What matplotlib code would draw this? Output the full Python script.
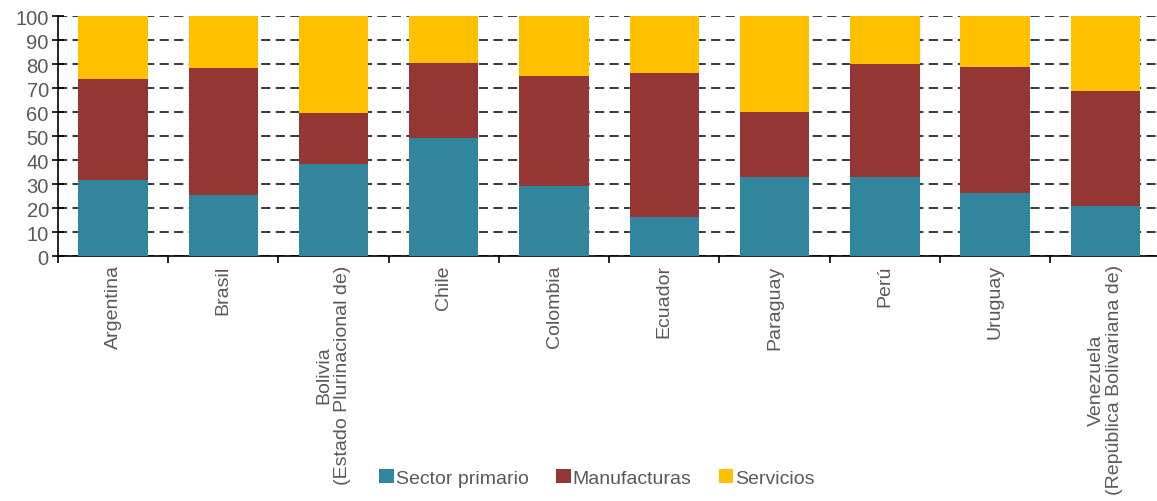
import matplotlib.pyplot as plt
import numpy as np

plt.rcParams['font.family'] = ['Liberation Sans', 'DejaVu Sans']

countries = ['Argentina', 'Brasil', 'Bolivia\n(Estado Plurinacional de)', 'Chile', 'Colombia',
             'Ecuador', 'Paraguay', 'Perú', 'Uruguay', 'Venezuela\n(República Bolivariana de)']
primario = [31.8, 25.5, 38.3, 49.0, 29.0, 16.1, 32.9, 32.8, 26.1, 20.7]
manufacturas = [42.0, 53.0, 21.3, 31.4, 46.0, 60.0, 27.0, 47.2, 52.8, 47.9]
servicios = [100 - p - m for p, m in zip(primario, manufacturas)]

teal = '#31859C'
red = '#943634'
yellow = '#FFC000'
gray = '#595959'
fs = 14

fig = plt.figure(figsize=(11.57, 5.02), dpi=100)
ax = fig.add_axes([0.050, 0.488, 0.953, 0.478])

x = np.arange(len(countries))
width = 0.63
bottom2 = np.array(primario) + np.array(manufacturas)
ax.bar(x, primario, width, color=teal, label='Sector primario', zorder=3)
ax.bar(x, manufacturas, width, bottom=primario, color=red, label='Manufacturas', zorder=3)
ax.bar(x, servicios, width, bottom=bottom2, color=yellow, label='Servicios', zorder=3)

ax.set_ylim(0, 100)
ax.set_xlim(-0.5, len(countries) - 0.5)
ax.set_yticks(range(0, 101, 10))
ax.yaxis.grid(True, color='black', linestyle=(0, (6, 3.5)), linewidth=1.1, zorder=0)
ax.set_axisbelow(True)

# category boundary ticks on x, labels centred under bars
ax.set_xticks(np.arange(-0.5, len(countries), 1.0))
ax.set_xticklabels([])
ax.set_xticks(x, minor=True)
ax.set_xticklabels(countries, minor=True, rotation=90, va='top', ha='center',
                   fontsize=fs, color=gray, linespacing=1.1)
ax.tick_params(axis='x', which='minor', length=0, pad=6)
ax.tick_params(axis='x', which='major', length=5, width=1.2, color='black')
ax.tick_params(axis='y', direction='inout', length=9, width=1.2, labelsize=14.5,
               labelcolor=gray, pad=2)

for s in ['top', 'right']:
    ax.spines[s].set_visible(False)
ax.spines['left'].set_linewidth(1.2)
ax.spines['bottom'].set_linewidth(1.2)

fig.legend(loc='center', bbox_to_anchor=(0.516, 0.046), ncol=3, frameon=False,
           fontsize=fs, labelcolor=gray, handlelength=0.75, handleheight=0.75,
           handletextpad=0.1, columnspacing=1.4)

fig.savefig('out.png', dpi=100)
